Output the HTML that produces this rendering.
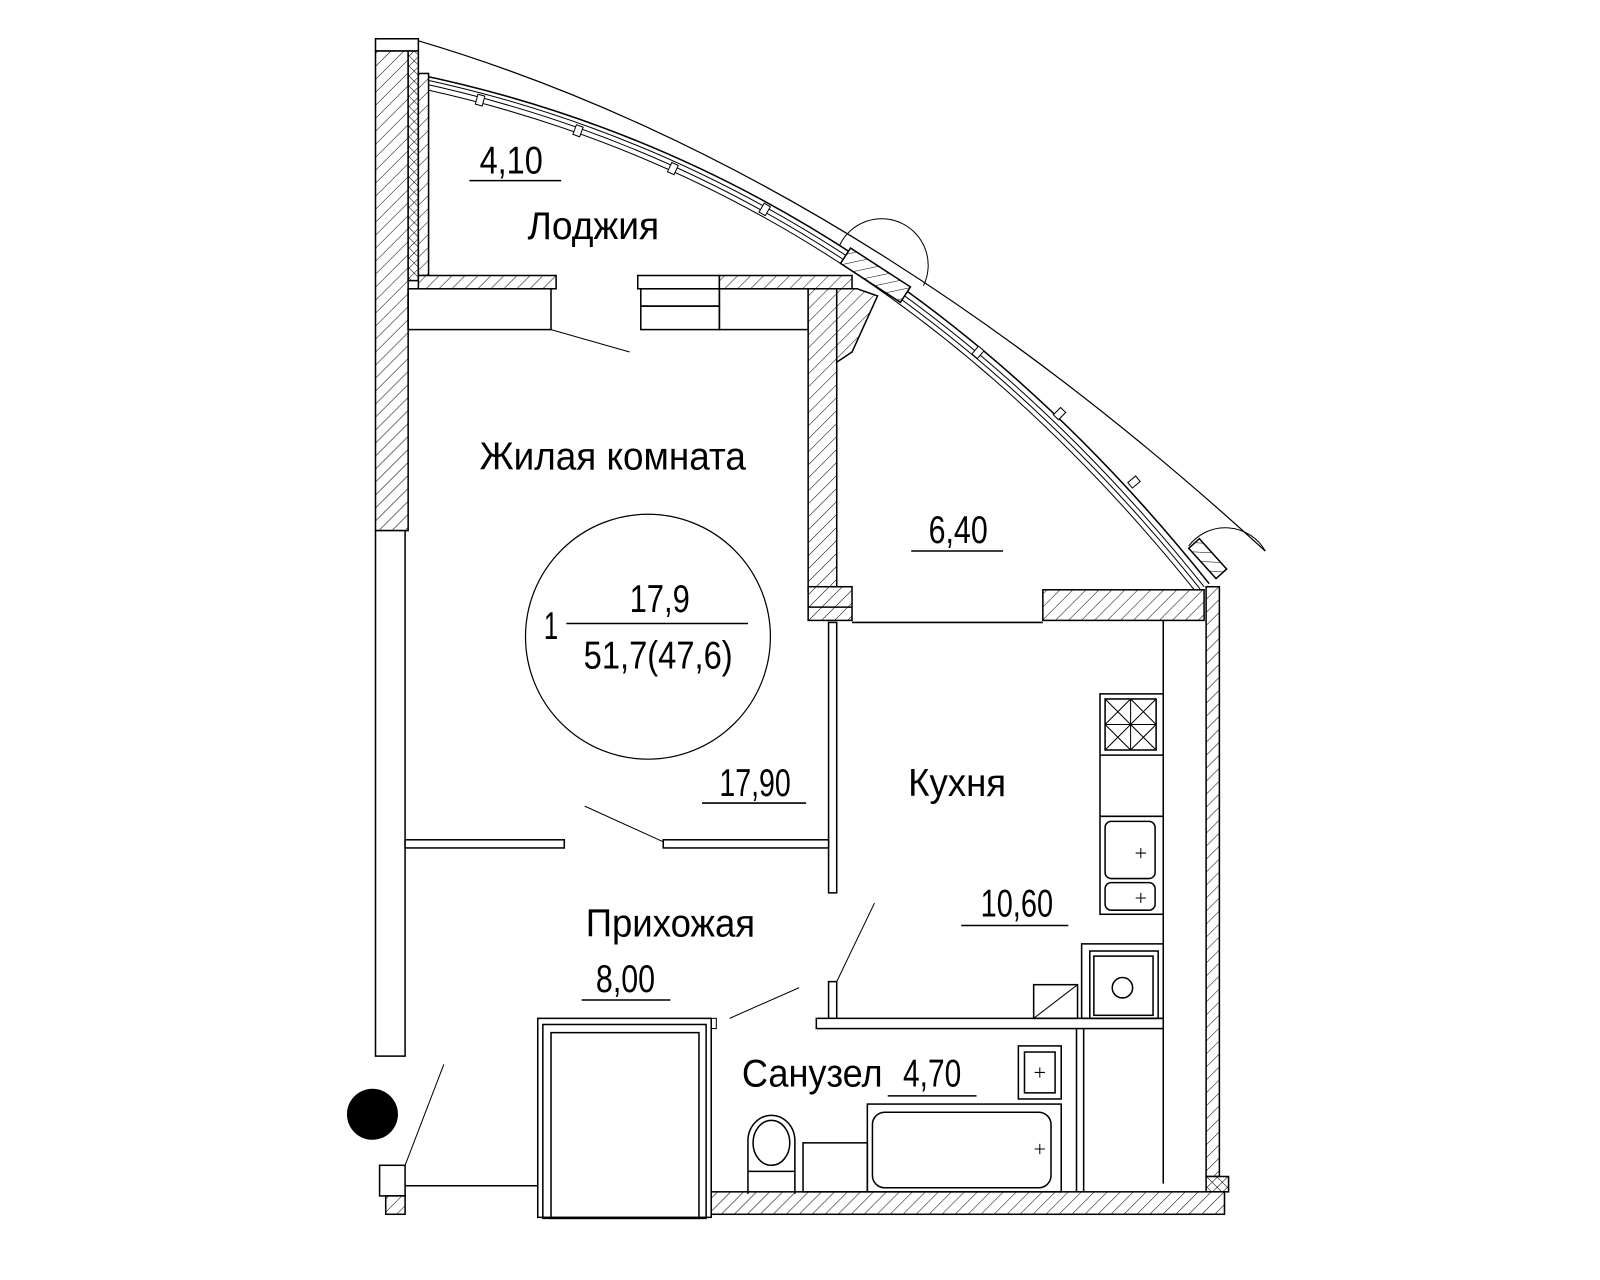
<!DOCTYPE html>
<html><head><meta charset="utf-8"><style>
html,body{margin:0;padding:0;background:#fff;}
svg{display:block;}
text{font-family:"Liberation Sans",sans-serif;fill:#000;}
</style></head><body>
<svg width="1600" height="1280" viewBox="0 0 1600 1280" xmlns="http://www.w3.org/2000/svg">
<defs>
<pattern id="h" width="9" height="9" patternUnits="userSpaceOnUse" patternTransform="rotate(45)">
<rect width="9" height="9" fill="#fff"/><line x1="0" y1="0" x2="0" y2="9" stroke="#000" stroke-width="1"/>
</pattern>
<pattern id="x" width="7" height="7" patternUnits="userSpaceOnUse" patternTransform="rotate(45)">
<rect width="7" height="7" fill="#fff"/><line x1="0" y1="0" x2="0" y2="7" stroke="#000" stroke-width="1"/><line x1="0" y1="0" x2="7" y2="0" stroke="#000" stroke-width="1"/>
</pattern>
</defs>
<g transform="scale(1.0204)">
<g fill="none" stroke="#000" stroke-width="1.5">
<path d="M410 40 Q829 164 1240 540" stroke-width="1.2"/>
<path d="M405 72 Q860 165 1185 572"/>
<path d="M412 77 Q858 172 1180 575" stroke-width="1"/>
<path d="M415 82 Q856 178 1176 577" stroke-width="1"/>
<path d="M418 88 Q855 184 1172 580" stroke-width="1"/>
<path d="M823 240 A45 45 0 1 1 905 280" stroke-width="1"/>
<path d="M1165 535 A45 45 0 0 1 1240 540" stroke-width="1"/>
<g fill="#fff" stroke-width="1">
<rect x="467" y="93" width="7" height="10" transform="rotate(15 470 98)"/>
<rect x="563" y="123" width="7" height="10" transform="rotate(20 566 128)"/>
<rect x="656" y="160" width="7" height="10" transform="rotate(25 659 165)"/>
<rect x="746" y="200" width="7" height="10" transform="rotate(30 749 205)"/>
<rect x="955" y="340" width="7" height="10" transform="rotate(40 958 345)"/>
<rect x="1035" y="400" width="7" height="10" transform="rotate(45 1038 405)"/>
<rect x="1108" y="467" width="7" height="10" transform="rotate(50 1111 472)"/>
</g>
<rect x="830" y="245" width="70" height="18" transform="rotate(33 835 250)" fill="url(#h)"/>
<rect x="1170" y="530" width="40" height="14" transform="rotate(48 1175 535)" fill="url(#h)"/>
<rect x="368" y="38" width="42" height="12" fill="#fff"/>
<rect x="368" y="50" width="32" height="470" fill="url(#h)"/>
<rect x="400" y="50" width="10" height="225" fill="url(#x)"/>
<rect x="410" y="72" width="10" height="198" fill="url(#h)"/>
<rect x="368" y="520" width="29" height="515" fill="#fff"/>
<rect x="410" y="270" width="135" height="13" fill="url(#h)"/>
<rect x="625" y="270" width="80" height="13" fill="#fff"/>
<rect x="705" y="270" width="130" height="13" fill="url(#h)"/>
<rect x="400" y="283" width="140" height="40" fill="#fff"/>
<rect x="628" y="283" width="77" height="17"/>
<rect x="628" y="300" width="77" height="23"/>
<rect x="705" y="283" width="87" height="40"/>
<line x1="400" y1="283" x2="400" y2="323"/>
<rect x="792" y="283" width="28" height="297" fill="url(#h)"/>
<rect x="792" y="575" width="43" height="33" fill="url(#h)"/>
<line x1="792" y1="595" x2="835" y2="595"/>
<polygon points="820,283 840,283 860,290 835,345 820,355" fill="url(#h)"/>
<rect x="1022" y="578" width="158" height="30" fill="url(#h)"/>
<line x1="835" y1="610" x2="1022" y2="610"/>
<rect x="1182" y="575" width="13" height="578" fill="url(#h)"/>
<rect x="1182" y="1153" width="22" height="15" fill="url(#x)"/>
<line x1="1140" y1="608" x2="1140" y2="1160"/>
<rect x="690" y="1168" width="510" height="22" fill="url(#h)"/>
<rect x="812" y="610" width="8" height="265" fill="#fff"/>
<rect x="397" y="823" width="156" height="8" fill="#fff"/>
<rect x="650" y="823" width="162" height="8" fill="#fff"/>
<rect x="812" y="962" width="8" height="36" fill="#fff"/>
<rect x="800" y="998" width="340" height="10" fill="#fff"/>
<line x1="540" y1="323" x2="617" y2="345" stroke-width="1"/>
<line x1="573" y1="790" x2="650" y2="825" stroke-width="1"/>
<line x1="857" y1="885" x2="820" y2="962" stroke-width="1"/>
<line x1="783" y1="968" x2="715" y2="998" stroke-width="1"/>
<line x1="435" y1="1043" x2="397" y2="1142" stroke-width="1"/>
<rect x="527" y="998" width="170" height="195" fill="#fff"/>
<rect x="532" y="1004" width="160" height="190"/>
<rect x="540" y="1012" width="145" height="182"/>
<rect x="697" y="998" width="5" height="10" stroke-width="1"/>
<rect x="372" y="1142" width="25" height="30" fill="#fff"/>
<line x1="397" y1="1162" x2="527" y2="1162"/>
<rect x="378" y="1172" width="19" height="18" fill="url(#h)"/>
<rect x="1078" y="680" width="62" height="216"/>
<line x1="1078" y1="740" x2="1140" y2="740"/>
<line x1="1078" y1="800" x2="1140" y2="800"/>
<rect x="1083" y="685" width="50" height="50"/>
<path d="M1083 685 L1133 735 M1133 685 L1083 735 M1108 685 V735 M1083 710 H1133 M1108 685 L1083 710 L1108 735 L1133 710 Z" stroke-width="1"/>
<rect x="1083" y="805" width="49" height="56" rx="6"/>
<rect x="1083" y="865" width="49" height="27" rx="6"/>
<path d="M1113 836 h10 M1118 831 v10 M1113 880 h10 M1118 875 v10" stroke-width="1"/>
<rect x="1060" y="925" width="80" height="73"/>
<rect x="1068" y="932" width="67" height="66"/>
<rect x="1072" y="937" width="58" height="58"/>
<circle cx="1100" cy="968" r="10"/>
<rect x="1013" y="965" width="43" height="33"/>
<line x1="1013" y1="998" x2="1056" y2="965" stroke-width="1"/>
<line x1="1055" y1="1008" x2="1055" y2="1168"/>
<line x1="1062" y1="1008" x2="1062" y2="1168"/>
<rect x="998" y="1025" width="42" height="52"/>
<rect x="1004" y="1031" width="30" height="40"/>
<path d="M1014 1051 h10 M1019 1046 v10" stroke-width="1"/>
<rect x="850" y="1082" width="190" height="86"/>
<rect x="855" y="1090" width="175" height="74" rx="12"/>
<path d="M1014 1126 h10 M1019 1121 v10" stroke-width="1"/>
<path d="M733 1170 V1118 A23 25 0 0 1 779 1118 V1170"/>
<ellipse cx="756" cy="1120" rx="18" ry="22"/>
<line x1="733" y1="1148" x2="779" y2="1148"/>
<rect x="787" y="1120" width="63" height="48"/>
<circle cx="635" cy="624" r="120" stroke-width="1.2"/>
<line x1="555" y1="611" x2="733" y2="611"/>
<line x1="460" y1="177" x2="550" y2="177"/>
<line x1="893" y1="540" x2="983" y2="540"/>
<line x1="688" y1="787" x2="790" y2="787"/>
<line x1="942" y1="907" x2="1047" y2="907"/>
<line x1="570" y1="980" x2="657" y2="980"/>
<line x1="870" y1="1074" x2="957" y2="1074"/>
</g>
<circle cx="365" cy="1092" r="25" fill="#000"/>
<g font-size="38">
<text x="470" y="170" textLength="62" lengthAdjust="spacingAndGlyphs">4,10</text>
<text x="517" y="234" textLength="129" lengthAdjust="spacingAndGlyphs">Лоджия</text>
<text x="470" y="460" textLength="261" lengthAdjust="spacingAndGlyphs">Жилая комната</text>
<text x="910" y="532" textLength="58" lengthAdjust="spacingAndGlyphs">6,40</text>
<text x="533" y="626" textLength="14" lengthAdjust="spacingAndGlyphs">1</text>
<text x="617" y="600" textLength="59" lengthAdjust="spacingAndGlyphs">17,9</text>
<text x="572" y="655" textLength="146" lengthAdjust="spacingAndGlyphs">51,7(47,6)</text>
<text x="705" y="780" textLength="70" lengthAdjust="spacingAndGlyphs">17,90</text>
<text x="890" y="780" textLength="96" lengthAdjust="spacingAndGlyphs">Кухня</text>
<text x="961" y="898" textLength="71" lengthAdjust="spacingAndGlyphs">10,60</text>
<text x="574" y="918" textLength="166" lengthAdjust="spacingAndGlyphs">Прихожая</text>
<text x="584" y="972" textLength="58" lengthAdjust="spacingAndGlyphs">8,00</text>
<text x="727" y="1065" textLength="138" lengthAdjust="spacingAndGlyphs">Санузел</text>
<text x="885" y="1065" textLength="57" lengthAdjust="spacingAndGlyphs">4,70</text>
</g>
</g>
</svg>
</body></html>
